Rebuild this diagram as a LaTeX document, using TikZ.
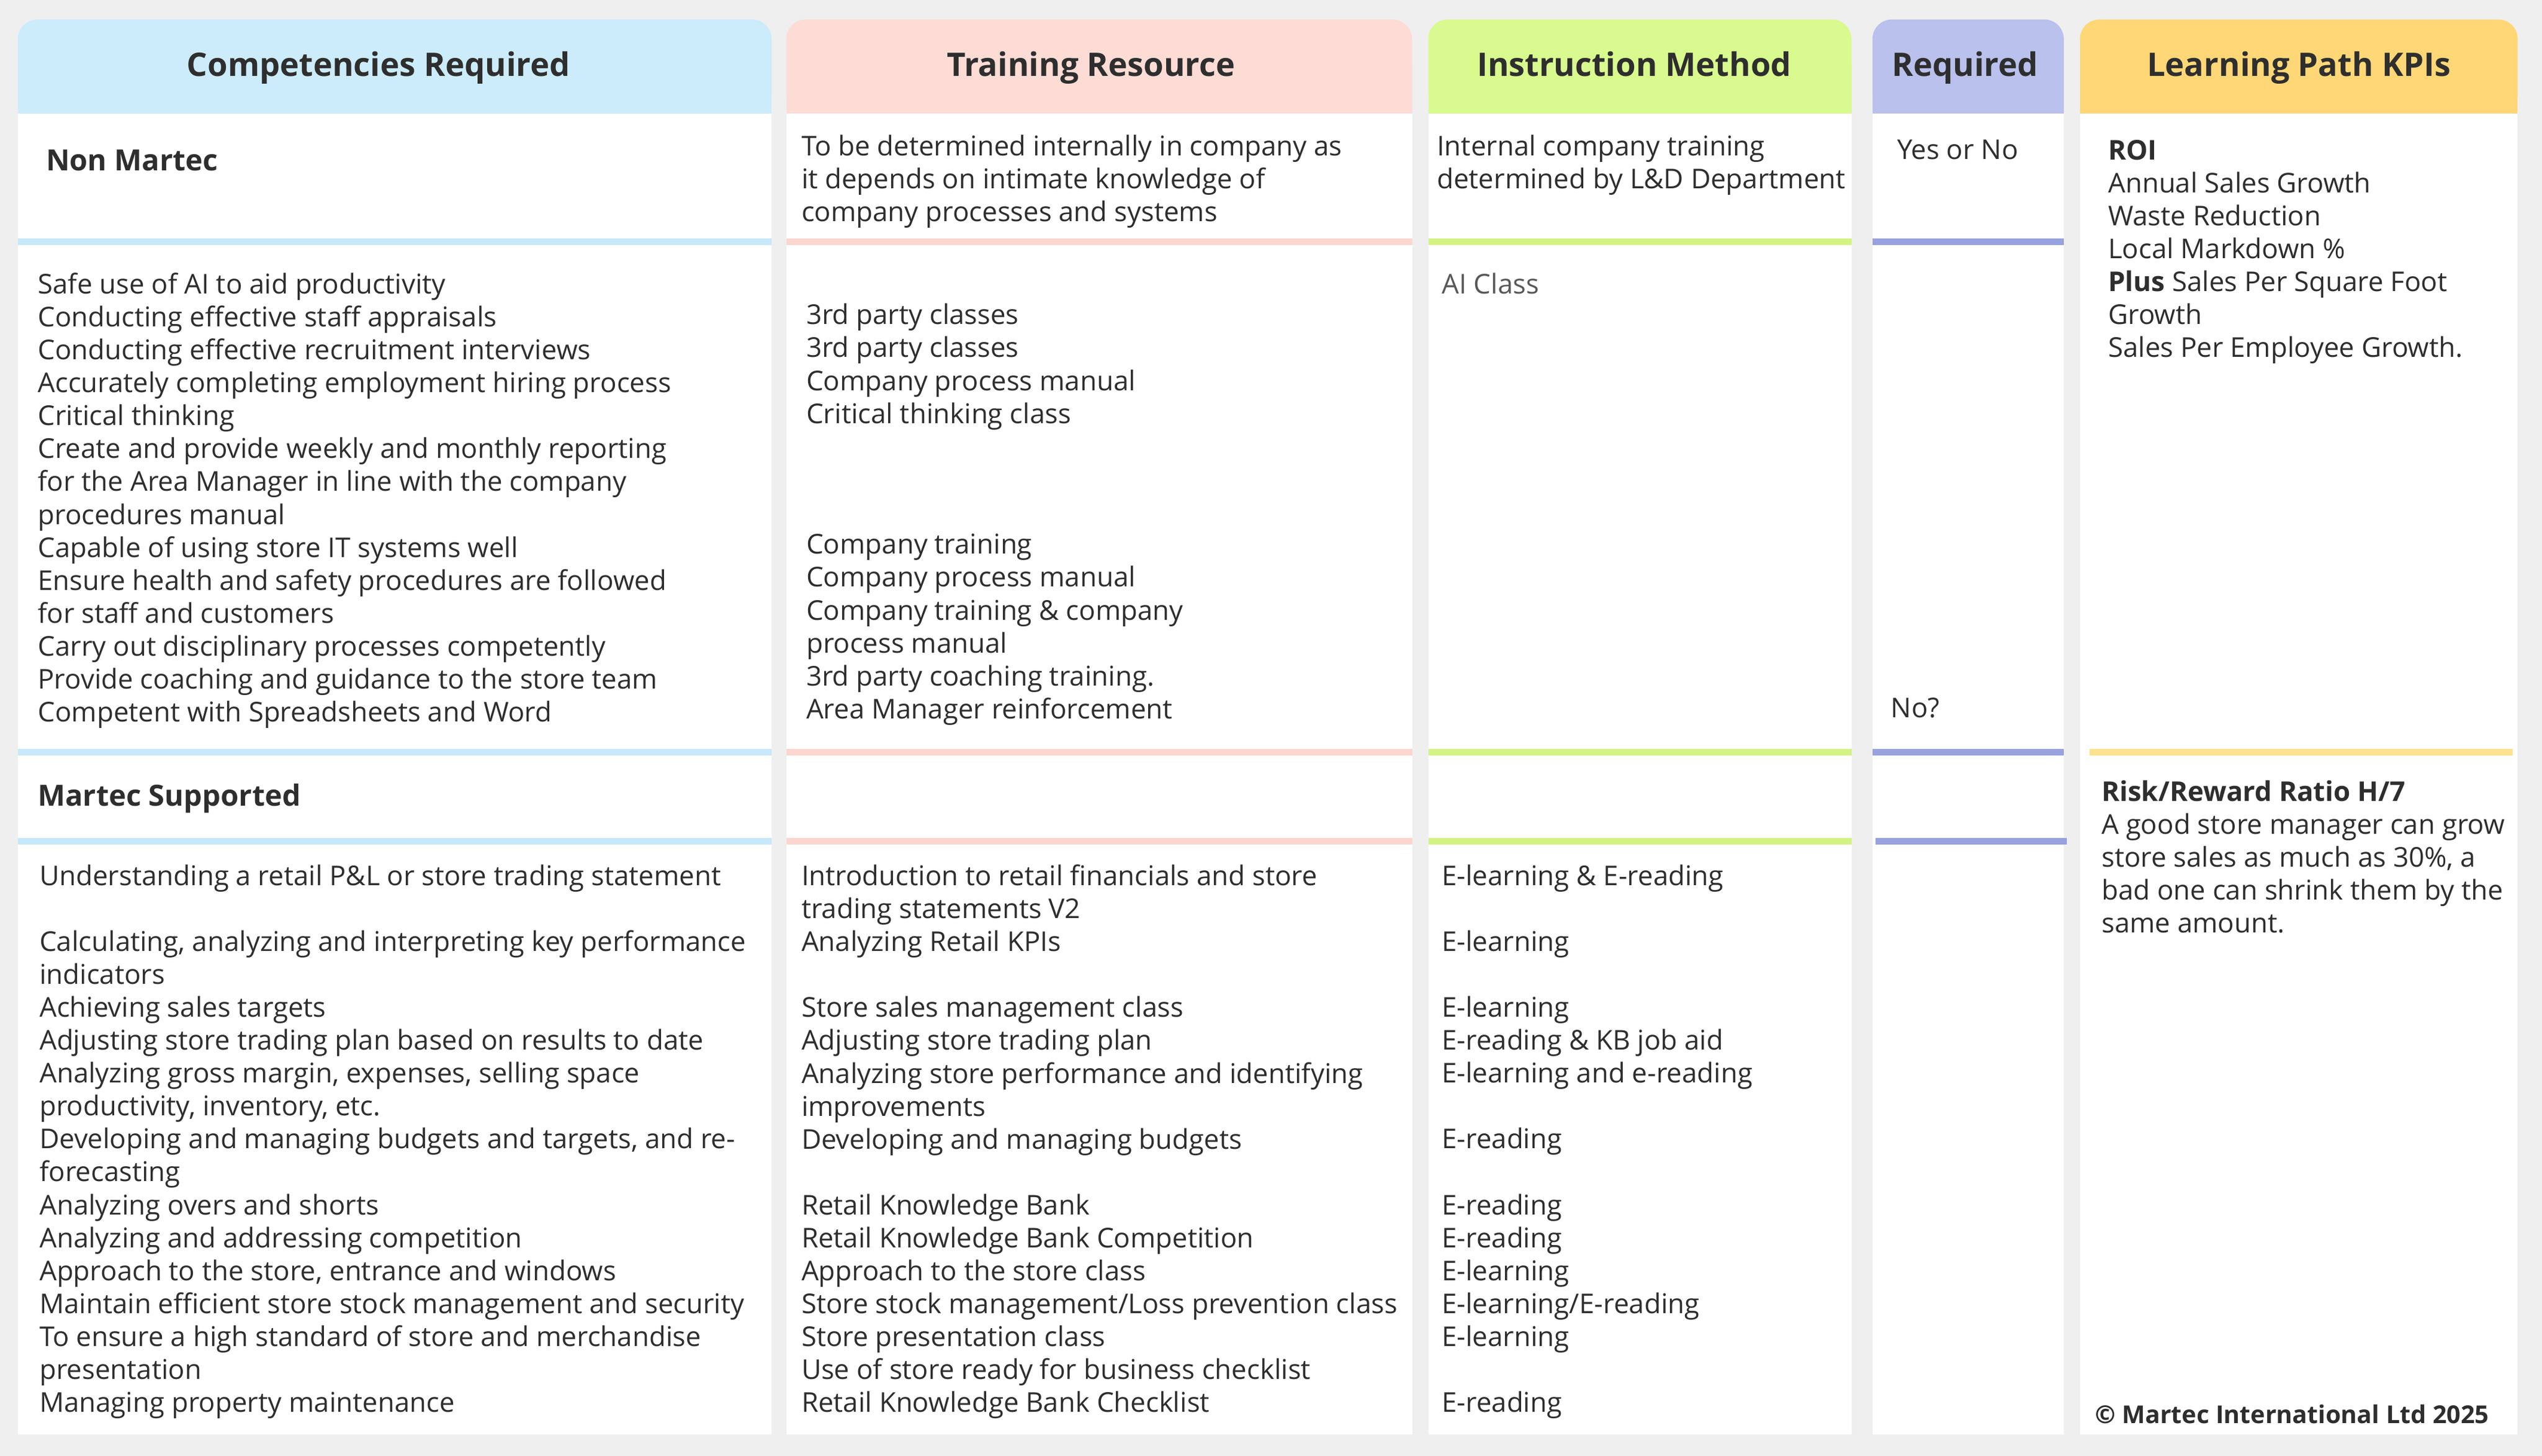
\documentclass[tikz,border=0pt]{standalone}
\usepackage{fontspec}
\setmainfont{Open Sans}
\definecolor{bg}{HTML}{EFEFEF}
\definecolor{txt}{HTML}{2E2E2E}
\definecolor{hA}{HTML}{CCECFB}\definecolor{hB}{HTML}{FDDCD5}\definecolor{hC}{HTML}{D9FA8E}\definecolor{hD}{HTML}{B9C1EC}\definecolor{hE}{HTML}{FFD777}
\definecolor{sA}{HTML}{C6E8F8}\definecolor{sB}{HTML}{FBD6CE}\definecolor{sC}{HTML}{D4F385}\definecolor{sD}{HTML}{97A2DF}\definecolor{sE}{HTML}{FFE28F}
\tikzset{x=0.5pt,y=-0.5pt,
 cell/.style={anchor=north west,inner sep=0pt,align=left,text=txt,font=\fontsize{8.4}{10.15}\selectfont},
 head/.style={inner sep=0pt,anchor=base,text=txt,font=\fontsize{10}{11}\selectfont\bfseries},
 sep/.style={line width=2pt}}
\begin{document}
\begin{tikzpicture}
\fill[bg] (0,0) rectangle (1568,898);
\useasboundingbox (0,0) rectangle (1568,898);
\foreach \a/\b/\c in {11/476/hA,485/871/hB,881/1142/hC,1155/1273/hD,1283/1553/hE}{
 \fill[white] (\a,40) rectangle (\b,885);
 \fill[\c,rounded corners=6pt] (\a,12) rectangle (\b,70);
 \fill[\c] (\a,40) rectangle (\b,70);
}
\node[head] (h1) at (233.5,47) {Competencies Required};
\node[head] (h2) at (673,47) {Training Resource};
\node[head] (h3) at (1008,47) {Instruction Method};
\node[head] (h4) at (1212,47) {Required};
\node[head] (h5) at (1418,47) {Learning Path KPIs};
% separators
\foreach \y in {149,464,519}{
 \draw[sep,sA] (11,\y) -- (476,\y);
 \draw[sep,sB] (485,\y) -- (871,\y);
 \draw[sep,sC] (881,\y) -- (1142,\y);
}
\draw[sep,sD] (1155,149) -- (1273,149);
\draw[sep,sD] (1155,464) -- (1273,464);
\draw[sep,sD] (1157,519) -- (1275,519);
\draw[sep,sE] (1289,464) -- (1550,464);
% row 1
\node[cell,font=\fontsize{9}{11}\selectfont\bfseries] (n1) at (28,92) {Non Martec};
\node[cell] (n2) at (494,83) {To be determined internally in company as\\it depends on intimate knowledge of\\company processes and systems};
\node[cell] (n3) at (886,83) {Internal company training\\determined by L\&D Department};
\node[cell] (n4) at (1170,86) {Yes or No};
\node[cell] (n5) at (1300,86) {\textbf{ROI}\\Annual Sales Growth\\Waste Reduction\\Local Markdown \%\\\textbf{Plus} Sales Per Square Foot\\Growth\\Sales Per Employee Growth.};
% row 2
\node[cell] (r1) at (23,168) {Safe use of AI to aid productivity\\Conducting effective staff appraisals\\Conducting effective recruitment interviews\\Accurately completing employment hiring process\\Critical thinking\\Create and provide weekly and monthly reporting\\for the Area Manager in line with the company\\procedures manual\\Capable of using store IT systems well\\Ensure health and safety procedures are followed\\for staff and customers\\Carry out disciplinary processes competently\\Provide coaching and guidance to the store team\\Competent with Spreadsheets and Word};
\node[cell] (r2) at (497,187) {3rd party classes\\3rd party classes\\Company process manual\\Critical thinking class};
\node[cell] (r2b) at (497,329) {Company training\\Company process manual\\Company training \& company\\process manual\\3rd party coaching training.\\Area Manager reinforcement};
\node[cell,text=txt!80] (r3) at (889,168) {AI Class};
\node[cell] (r4) at (1166,430) {No?};
% row 3
\node[cell,font=\fontsize{9}{11}\selectfont\bfseries] (m1) at (23,483) {Martec Supported};
\node[cell] (m5) at (1296,481) {\textbf{Risk/Reward Ratio H/7}\\A good store manager can grow\\store sales as much as 30\%, a\\bad one can shrink them by the\\same amount.};
% row 4
\node[cell] (s1) at (24,533) {Understanding a retail P\&L or store trading statement\\\mbox{}\\Calculating, analyzing and interpreting key performance\\indicators\\Achieving sales targets\\Adjusting store trading plan based on results to date\\Analyzing gross margin, expenses, selling space\\productivity, inventory, etc.\\Developing and managing budgets and targets, and re-\\forecasting\\Analyzing overs and shorts\\Analyzing and addressing competition\\Approach to the store, entrance and windows\\Maintain efficient store stock management and security\\To ensure a high standard of store and merchandise\\presentation\\Managing property maintenance};
\node[cell] (s2) at (494,533) {Introduction to retail financials and store\\trading statements V2\\Analyzing Retail KPIs\\\mbox{}\\Store sales management class\\Adjusting store trading plan\\Analyzing store performance and identifying\\improvements\\Developing and managing budgets\\\mbox{}\\Retail Knowledge Bank\\Retail Knowledge Bank Competition\\Approach to the store class\\Store stock management/Loss prevention class\\Store presentation class\\Use of store ready for business checklist\\Retail Knowledge Bank Checklist};
\node[cell] (s3) at (889,533) {E-learning \& E-reading\\\mbox{}\\E-learning\\\mbox{}\\E-learning\\E-reading \& KB job aid\\E-learning and e-reading\\\mbox{}\\E-reading\\\mbox{}\\E-reading\\E-reading\\E-learning\\E-learning/E-reading\\E-learning\\\mbox{}\\E-reading};
\node[cell,font=\fontsize{7.6}{9}\selectfont\bfseries] (c) at (1292,866) {© Martec International Ltd 2025};
\end{tikzpicture}
\end{document}
